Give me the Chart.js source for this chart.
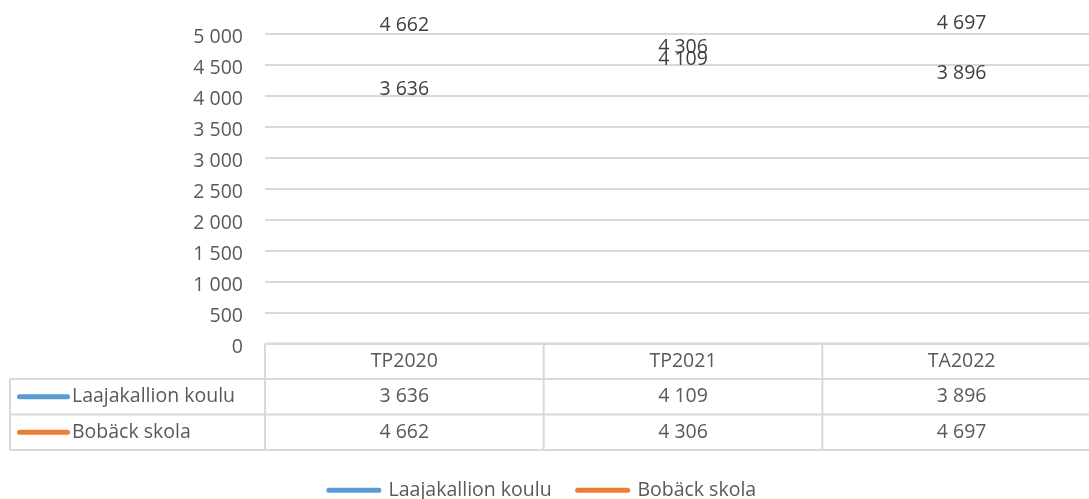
<!DOCTYPE html>
<html>
<head>
<meta charset="utf-8">
<script src="https://cdn.jsdelivr.net/npm/chart.js@4/dist/chart.umd.min.js"></script>
<style>
    body { margin: 0; overflow: hidden; background: #fff; }
    #wrap { width: 1101px; height: 499px; }
</style>
</head>
<body>
<div id="wrap"><canvas id="chart"></canvas></div>
<script>
const categories = ['TP2020', 'TP2021', 'TA2022'];
const seriesNames = ['Laajakallion koulu', 'Bobäck skola'];
const laajakallion = [3636, 4109, 3896];
const boback = [4662, 4306, 4697];
const yMin = 0;
const yMax = 5000;
const yStep = 500;

const blue = '#5b9bd5';
const orange = '#ed7d31';
const fontFamily = '"Open Sans", sans-serif';
const fontSize = 19.5;

function fmt(v) {
    return String(v).replace(/\B(?=(\d{3})+(?!\d))/g, ' ');
}

// labels floating above the (hidden) points
const dataLabels = {
    id: 'dataLabels',
    afterDatasetsDraw(chart) {
        const ctx = chart.ctx;
        ctx.save();
        ctx.font = `${fontSize}px ${fontFamily}`;
        ctx.fillStyle = '#404040';
        ctx.textAlign = 'center';
        ctx.textBaseline = 'middle';
        chart.data.datasets.forEach((ds, i) => {
            chart.getDatasetMeta(i).data.forEach((pt, j) => {
                ctx.fillText(fmt(ds.data[j]), pt.x, pt.y - 29);
            });
        });
        ctx.restore();
    }
};

// data table under the plot
const dataTable = {
    id: 'dataTable',
    afterDraw(chart) {
        const ctx = chart.ctx;
        const area = chart.chartArea;
        const xs = chart.scales.x;
        const rowH = 35.5;
        const top = area.bottom;
        const left = 10;
        const right = chart.width;
        const colW = (area.right - area.left) / categories.length;

        ctx.save();
        ctx.strokeStyle = '#d9d9d9';
        ctx.lineWidth = 2;
        ctx.beginPath();
        ctx.moveTo(area.left, top);
        ctx.lineTo(right, top);
        for (let r = 1; r <= 3; r++) {
            ctx.moveTo(left, top + r * rowH);
            ctx.lineTo(right, top + r * rowH);
        }
        ctx.moveTo(left, top + rowH);
        ctx.lineTo(left, top + 3 * rowH);
        for (let c = 0; c <= categories.length; c++) {
            const x = area.left + c * colW;
            ctx.moveTo(x, top);
            ctx.lineTo(x, top + 3 * rowH);
        }
        ctx.stroke();

        ctx.font = `${fontSize}px ${fontFamily}`;
        ctx.fillStyle = '#595959';
        ctx.textBaseline = 'middle';
        ctx.textAlign = 'center';
        categories.forEach((c, i) => {
            ctx.fillText(c, xs.getPixelForValue(i), top + rowH / 2);
        });

        chart.data.datasets.forEach((ds, r) => {
            const cy = top + (r + 1.5) * rowH;
            ctx.strokeStyle = ds.borderColor;
            ctx.lineWidth = 5;
            ctx.lineCap = 'round';
            ctx.beginPath();
            ctx.moveTo(19.5, cy);
            ctx.lineTo(67.5, cy);
            ctx.stroke();
            ctx.fillStyle = '#595959';
            ctx.textAlign = 'left';
            ctx.fillText(ds.label, 72, cy);
            ctx.textAlign = 'center';
            ds.data.forEach((v, i) => {
                ctx.fillText(fmt(v), xs.getPixelForValue(i), cy);
            });
        });
        ctx.restore();
    }
};

new Chart(document.getElementById('chart'), {
    type: 'line',
    data: {
        labels: categories,
        datasets: [{
            label: seriesNames[0],
            data: laajakallion,
            borderColor: blue,
            backgroundColor: blue,
            borderWidth: 5,
            borderCapStyle: 'round',
            showLine: false,
            pointRadius: 0,
            pointHoverRadius: 0,
            pointStyle: 'line'
        }, {
            label: seriesNames[1],
            data: boback,
            borderColor: orange,
            backgroundColor: orange,
            borderWidth: 5,
            borderCapStyle: 'round',
            showLine: false,
            pointRadius: 0,
            pointHoverRadius: 0,
            pointStyle: 'line'
        }]
    },
    options: {
        responsive: true,
        maintainAspectRatio: false,
        animation: false,
        layout: { padding: { top: 29, left: -16, right: 0, bottom: -11 } },
        plugins: {
            tooltip: { enabled: false },
            legend: {
                position: 'bottom',
                labels: {
                    usePointStyle: true,
                    pointStyle: 'line',
                    pointStyleWidth: 50,
                    padding: 26,
                    color: '#595959',
                    font: { family: fontFamily, size: fontSize },
                    generateLabels(chart) {
                        return chart.data.datasets.map((ds, i) => ({
                            text: ds.label,
                            fillStyle: ds.backgroundColor,
                            strokeStyle: ds.borderColor,
                            lineWidth: 5,
                            lineCap: 'round',
                            pointStyle: 'line',
                            fontColor: '#595959',
                            hidden: !chart.isDatasetVisible(i),
                            datasetIndex: i
                        }));
                    }
                }
            }
        },
        scales: {
            x: {
                offset: true,
                grid: { display: false },
                border: { display: false },
                ticks: { display: false },
                afterFit(scale) { scale.height = 111; }
            },
            y: {
                min: yMin,
                max: yMax,
                border: { display: false },
                grid: { color: '#d9d9d9', lineWidth: 2, drawTicks: false },
                ticks: {
                    stepSize: yStep,
                    padding: 22,
                    labelOffset: 4,
                    color: '#595959',
                    font: { family: fontFamily, size: fontSize },
                    callback: (v) => fmt(v)
                },
                afterFit(scale) { scale.width = 281; }
            }
        }
    },
    plugins: [dataLabels, dataTable]
});
</script>
</body>
</html>
